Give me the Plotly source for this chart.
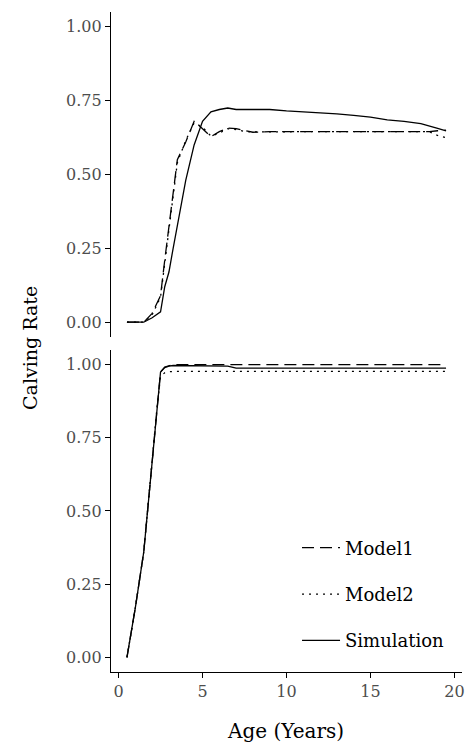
import plotly.graph_objects as go
from plotly.subplots import make_subplots

# ages (years) shared by every series
age = [0.5, 1, 1.5, 2, 2.25, 2.5, 2.75, 3, 3.25, 3.5, 4, 4.5, 5, 5.5, 6, 6.5,
       7, 7.5, 8, 9, 10, 11, 12, 13, 14, 15, 16, 17, 18, 18.5, 19, 19.5]

# top panel
top_model1 = [0, 0, 0, 0.03, 0.06, 0.09, 0.21, 0.32, 0.44, 0.55, 0.61, 0.68, 0.655, 0.628, 0.645, 0.657,
              0.655, 0.648, 0.643, 0.645, 0.645, 0.645, 0.645, 0.645, 0.645, 0.645, 0.645, 0.645, 0.645, 0.645, 0.648, 0.65]
top_model2 = [0, 0, 0, 0.025, 0.055, 0.085, 0.2, 0.31, 0.43, 0.54, 0.615, 0.675, 0.66, 0.63, 0.64, 0.655,
              0.652, 0.646, 0.644, 0.645, 0.645, 0.645, 0.645, 0.645, 0.645, 0.645, 0.646, 0.646, 0.646, 0.645, 0.632, 0.625]
top_sim = [0, 0, 0, 0.015, 0.025, 0.035, 0.12, 0.17, 0.25, 0.33, 0.48, 0.6, 0.68, 0.712, 0.72, 0.725,
           0.72, 0.72, 0.72, 0.72, 0.715, 0.712, 0.71, 0.705, 0.70, 0.694, 0.685, 0.68, 0.672, 0.665, 0.656, 0.648]

# bottom panel
bot_model1 = [0, 0.17, 0.36, 0.68, 0.83, 0.975, 0.992, 0.997, 1.0, 1.0, 1.0, 1.0, 1.0, 1.0, 1.0, 1.0,
              1.0, 1.0, 1.0, 1.0, 1.0, 1.0, 1.0, 1.0, 1.0, 1.0, 1.0, 1.0, 1.0, 1.0, 1.0, 1.0]
bot_model2 = [0, 0.17, 0.36, 0.68, 0.83, 0.96, 0.972, 0.976, 0.977, 0.977, 0.977, 0.977, 0.977, 0.977, 0.977, 0.977,
              0.977, 0.977, 0.977, 0.977, 0.977, 0.977, 0.977, 0.977, 0.977, 0.977, 0.977, 0.977, 0.977, 0.977, 0.977, 0.977]
bot_sim = [0, 0.17, 0.36, 0.68, 0.83, 0.975, 0.99, 0.995, 0.997, 0.997, 0.997, 0.996, 0.996, 0.996, 0.995, 0.995,
           0.988, 0.988, 0.988, 0.988, 0.988, 0.988, 0.988, 0.988, 0.988, 0.988, 0.988, 0.988, 0.988, 0.988, 0.988, 0.988]

y_ticks = [0, 0.25, 0.5, 0.75, 1.0]
x_ticks = [0, 5, 10, 15, 20]

FONT = "DejaVu Serif"
styles = {
    "Model1": dict(color="black", width=1.3, dash="12px,6px"),
    "Model2": dict(color="black", width=1.3, dash="2px,5px"),
    "Simulation": dict(color="black", width=1.3),
}

fig = make_subplots(rows=2, cols=1, shared_xaxes=True)

for row, series in [(1, [top_model1, top_model2, top_sim]), (2, [bot_model1, bot_model2, bot_sim])]:
    for name, ys in zip(["Model1", "Model2", "Simulation"], series):
        fig.add_trace(go.Scatter(x=age, y=ys, mode="lines", name=name, line=styles[name],
                                 legendgroup=name, showlegend=(row == 2)), row=row, col=1)

yax = dict(range=[-0.05, 1.05], tickvals=y_ticks, ticktext=[f"{v:.2f}" for v in y_ticks],
           showgrid=False, zeroline=False, showline=True, linecolor="black", linewidth=1.2,
           ticks="outside", ticklen=5, tickcolor="black", tickwidth=1.2, automargin=False,
           tickfont=dict(family=FONT, size=16, color="#4d4d4d"))
fig.update_yaxes(**yax)
fig.update_yaxes(domain=[0.5076, 1], row=1, col=1)
fig.update_yaxes(domain=[0, 0.4879], row=2, col=1)

fig.update_xaxes(range=[-0.45, 20.45], showgrid=False, zeroline=False, automargin=False)
fig.update_xaxes(showline=False, ticks="", showticklabels=False, row=1, col=1)
fig.update_xaxes(tickvals=x_ticks, showline=True, linecolor="black", linewidth=1.2,
                 ticks="outside", ticklen=5, tickcolor="black", tickwidth=1.2,
                 tickfont=dict(family=FONT, size=16, color="#4d4d4d"), row=2, col=1)

fig.update_layout(
    width=468, height=745,
    margin=dict(l=111, r=6, t=12, b=73, autoexpand=False),
    plot_bgcolor="white", paper_bgcolor="white",
    font=dict(family=FONT, color="black"),
    legend=dict(x=0.53, y=0.216, xanchor="left", yanchor="top", itemwidth=38,
                font=dict(family=FONT, size=18, color="black"),
                bgcolor="rgba(0,0,0,0)", tracegroupgap=20),
    annotations=[
        dict(text="Calving Rate", x=-0.2308, y=0.491, xref="paper", yref="paper",
             xanchor="center", yanchor="middle",
             textangle=-90, showarrow=False, font=dict(family=FONT, size=19, color="black")),
        dict(text="Age (Years)", x=0.496, y=-0.0894, xref="paper", yref="paper",
             xanchor="center", yanchor="middle", showarrow=False,
             font=dict(family=FONT, size=20, color="black")),
    ],
)

# drop the default 8px body margin so the figure fills the window exactly
fig.write_html("out.html", config={"displayModeBar": False},
               post_script="document.body.style.margin='0';")
